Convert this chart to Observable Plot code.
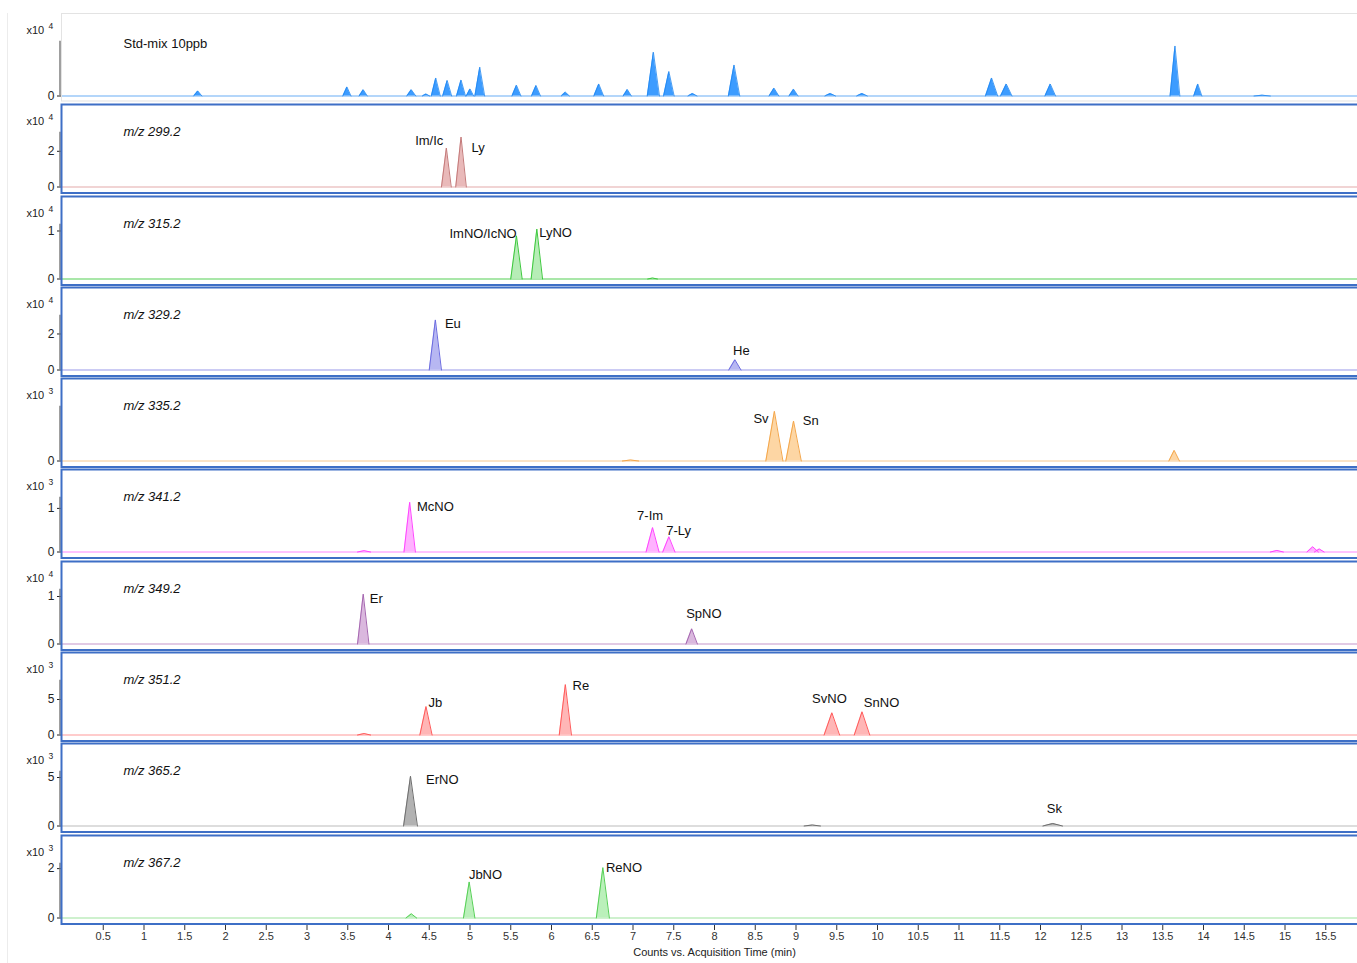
<!DOCTYPE html>
<html><head><meta charset="utf-8">
<script src="https://cdn.jsdelivr.net/npm/d3@7"></script>
<script src="https://cdn.jsdelivr.net/npm/@observablehq/plot@0.6"></script>
<style>
html,body{margin:0;padding:0;background:#fff;overflow:hidden;}
#chart{position:relative;width:1357px;height:963px;overflow:hidden;font-family:"Liberation Sans",Arial,sans-serif;}
#chart svg{position:absolute;left:0;}
#edge{position:absolute;left:7px;top:13px;width:1px;height:950px;background:#ececec;}
</style></head><body><div id="chart"><div id="edge"></div></div>
<script>
// ---------- data ----------
const xTickValues = [0.5,1,1.5,2,2.5,3,3.5,4,4.5,5,5.5,6,6.5,7,7.5,8,8.5,9,9.5,10,10.5,11,11.5,12,12.5,13,13.5,14,14.5,15,15.5];
const xTitle = "Counts vs. Acquisition Time (min)";

const panelTitles = ["Std-mix 10ppb","m/z 299.2","m/z 315.2","m/z 329.2","m/z 335.2","m/z 341.2","m/z 349.2","m/z 351.2","m/z 365.2","m/z 367.2"];
const panelExponent = [4,4,4,4,3,3,4,3,3,3];
const panelYMax = [6.05,4.51,1.677,4.47,6.6,1.846,1.695,11.34,8.3,3.26];
const panelYTicks = [[0],[0,2],[0,1],[0,2],[0],[0,1],[0,1],[0,5],[0,5],[0,2]];

// peaks: [retention time (min), height (panel units), half base width (min)]
const peaksStdMix = [[1.66,0.38,0.05],[3.49,0.68,0.05],[3.69,0.47,0.05],[4.28,0.47,0.055],[4.46,0.15,0.045],
  [4.58,1.35,0.055],[4.72,1.17,0.055],[4.89,1.2,0.055],[5.0,0.53,0.045],[5.12,2.17,0.06],[5.57,0.81,0.055],
  [5.81,0.79,0.055],[6.17,0.29,0.05],[6.58,0.9,0.06],[6.93,0.49,0.05],[7.25,3.29,0.075],[7.44,1.84,0.065],
  [7.73,0.19,0.055],[8.24,2.33,0.07],[8.73,0.59,0.06],[8.97,0.51,0.055],[9.42,0.19,0.065],[9.81,0.19,0.065],
  [11.40,1.35,0.075],[11.58,0.9,0.07],[12.12,0.9,0.065],[13.65,3.76,0.06],[13.93,0.9,0.05],[14.72,0.06,0.1]];
const peaksMz2992 = [[4.71,2.18,0.06],[4.89,2.8,0.065]];
const peaksMz3152 = [[5.57,0.9,0.07],[5.82,1.04,0.07],[7.24,0.02,0.06]];
const peaksMz3292 = [[4.575,2.78,0.075],[8.25,0.57,0.075]];
const peaksMz3352 = [[6.97,0.08,0.1],[8.735,4.07,0.105],[8.97,3.27,0.095],[13.64,0.87,0.065]];
const peaksMz3412 = [[3.7,0.03,0.08],[4.26,1.14,0.07],[7.24,0.56,0.08],[7.44,0.35,0.075],[14.9,0.035,0.08],[15.34,0.12,0.07],[15.42,0.07,0.06]];
const peaksMz3492 = [[3.69,1.05,0.07],[7.72,0.32,0.07]];
const peaksMz3512 = [[3.7,0.2,0.08],[4.46,4.01,0.075],[6.17,7.1,0.075],[9.44,3.13,0.095],[9.81,3.27,0.095]];
const peaksMz3652 = [[4.27,5.13,0.085],[9.2,0.1,0.1],[12.15,0.26,0.12]];
const peaksMz3672 = [[4.28,0.17,0.065],[4.99,1.46,0.07],[6.63,2.04,0.08]];
const panelPeaks = [peaksStdMix,peaksMz2992,peaksMz3152,peaksMz3292,peaksMz3352,peaksMz3412,peaksMz3492,peaksMz3512,peaksMz3652,peaksMz3672];

// peak labels: [name, time (min), value (panel units)]
const panelLabels = [
  [],
  [["Im/Ic",4.50,2.56],["Ly",5.10,2.17]],
  [["ImNO/IcNO",5.16,0.94],["LyNO",6.05,0.96]],
  [["Eu",4.79,2.57],["He",8.33,1.07]],
  [["Sv",8.57,3.47],["Sn",9.18,3.33]],
  [["McNO",4.575,1.04],["7-Im",7.21,0.83],["7-Ly",7.56,0.49]],
  [["Er",3.85,0.945],["SpNO",7.87,0.64]],
  [["Jb",4.575,4.48],["Re",6.36,6.97],["SvNO",9.41,5.1],["SnNO",10.05,4.48]],
  [["ErNO",4.66,4.72],["Sk",12.17,1.8]],
  [["JbNO",5.19,1.74],["ReNO",6.89,2.04]]
];

const panelStroke = ["#1f86f0","#c47a7a","#3cc83c","#6b6be0","#f4a64a","#ff44ff","#a566b0","#ff5a5a","#6e6e6e","#55d055"];
const panelFill   = ["#3d9cff","#e9b9b9","#b6edb6","#b7b7f2","#fdd6a4","#ffb2ff","#dab8de","#ffb6b6","#b2b2b2","#baf0ba"];
const panelBase   = ["#b4d6fa","#e3a9a9","#55d055","#9898ea","#f6c88e","#ff88ff","#c596cc","#ff9a9a","#bcbcbc","#9ee49e"];

// ---------- layout ----------
const W = 1366, H = 91, ML = 62, MT = 3, MB = 7.5;
const panelTops = [12,103.2,194.5,285.8,377.1,468.4,559.7,651,742.3,833.6];
const chart = document.getElementById("chart");
const font = "Liberation Sans, Arial, sans-serif";

panelTitles.forEach((title, i) => {
  const rows = panelPeaks[i].flatMap(([t, h, w], k) => [
    {k, t: t - w, v: 0}, {k, t, v: h}, {k, t: t + w, v: 0}
  ]);
  const yMax = panelYMax[i];
  const first = i === 0;
  const svg = Plot.plot({
    width: W, height: H, marginLeft: ML, marginRight: 0, marginTop: MT, marginBottom: MB,
    style: {fontFamily: font, fontSize: "12px", color: "#222", background: "transparent", maxWidth: "none", overflow: "visible"},
    x: {domain: [0, 16], axis: null, label: null},
    y: {domain: [0, yMax], ticks: panelYTicks[i], tickFormat: d => String(d), tickSize: 5, tickPadding: 3, label: null},
    marks: [
      Plot.ruleY([0], {stroke: panelBase[i], strokeWidth: first ? 2 : 1.2}),
      Plot.areaY(rows, {x: "t", y1: 0, y2: "v", z: "k", fill: panelFill[i], fillOpacity: 1}),
      Plot.lineY(rows, {x: "t", y: "v", z: "k", stroke: panelStroke[i], strokeWidth: first ? 0.8 : 1}),
      Plot.text(panelLabels[i], {x: d => d[1], y: d => d[2], text: d => d[0], fontSize: 13, fill: "#111", textAnchor: "middle", lineAnchor: "middle"}),
      Plot.text([title], {frameAnchor: "top-left", dx: 61, dy: first ? 28 : 25, fontSize: 13, fontStyle: first ? "normal" : "italic", fill: "#111", textAnchor: "start", lineAnchor: "middle"}),
      Plot.text(["x10"], {frameAnchor: "top-left", dx: -36, dy: 14.5, fontSize: 11, fill: "#222", textAnchor: "start", lineAnchor: "middle"}),
      Plot.text([String(panelExponent[i])], {frameAnchor: "top-left", dx: -14, dy: 10.3, fontSize: 8.5, fill: "#222", textAnchor: "start", lineAnchor: "middle"}),
      Plot.ruleX([0], {y1: 0, y2: yMax * 0.68, stroke: "#777", strokeWidth: 1.4, dx: -2.5}),
      first
        ? Plot.frame({stroke: "#e3e3e3", strokeWidth: 1, insetTop: -2, insetBottom: -5, insetLeft: -1})
        : Plot.frame({stroke: "#3e6fc6", strokeWidth: 2, insetTop: -2, insetBottom: -6, insetLeft: -1})
    ]
  });
  svg.style.top = panelTops[i] + "px";
  chart.appendChild(svg);
});

// bottom time axis
const axisSvg = Plot.plot({
  width: W, height: 43, marginLeft: ML, marginRight: 0, marginTop: 5, marginBottom: 38,
  style: {fontFamily: font, fontSize: "11px", color: "#333", background: "transparent", maxWidth: "none", overflow: "visible"},
  x: {domain: [0, 16], ticks: xTickValues, tickFormat: d => String(d), tickSize: 5, tickPadding: 2, label: null},
  marks: [
    Plot.ruleX(xTickValues, {stroke: "none"}),
    Plot.text([xTitle], {frameAnchor: "bottom", dy: 26.7, fontSize: 11, fill: "#222", lineAnchor: "middle"})
  ]
});
axisSvg.style.top = "920px";
chart.appendChild(axisSvg);
</script></body></html>
